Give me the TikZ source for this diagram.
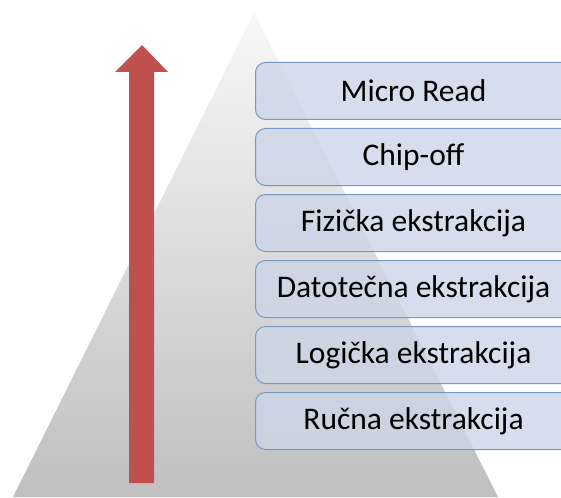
\documentclass[tikz,border=0pt]{standalone}
\usepackage{fontspec}
\setmainfont{Carlito}
\usepackage{tikz}
\usetikzlibrary{positioning}

\definecolor{arrowred}{RGB}{192,80,77}
\definecolor{boxfill}{RGB}{204,213,231}
\definecolor{boxline}{RGB}{120,150,200}

\tikzset{
	stage/.style={
		draw=boxline,
		line width=1pt,
		fill=boxfill,
		fill opacity=0.8,
		text opacity=1,
		minimum width=316pt,
		minimum height=57pt,
		inner sep=0pt,
		rounded corners=10pt,
		font=\fontsize{31.5}{36}\selectfont
	}
}

\begin{document}
\begin{tikzpicture}[x=1pt,y=-1pt]
	\useasboundingbox (0,0) rectangle (561,497);

	\shade[top color=white!97!black, bottom color=white!75!black]
		(254,13) -- (498,497) -- (13,497) -- cycle;

	\fill[arrowred]
		(129,483) -- (154,483) -- (154,72) -- (168,72)
		-- (142,45) -- (115,72) -- (129,72) -- cycle;

	\node[stage, anchor=north west] (micro) at (255,62) {Micro Read};
	\node[stage, below=8pt of micro] (chip) {Chip-off};
	\node[stage, below=8pt of chip] (fiz) {Fizička ekstrakcija};
	\node[stage, below=8pt of fiz] (dat) {Datotečna ekstrakcija};
	\node[stage, below=8pt of dat] (log) {Logička ekstrakcija};
	\node[stage, below=8pt of log] (ruc) {Ručna ekstrakcija};
\end{tikzpicture}
\end{document}
